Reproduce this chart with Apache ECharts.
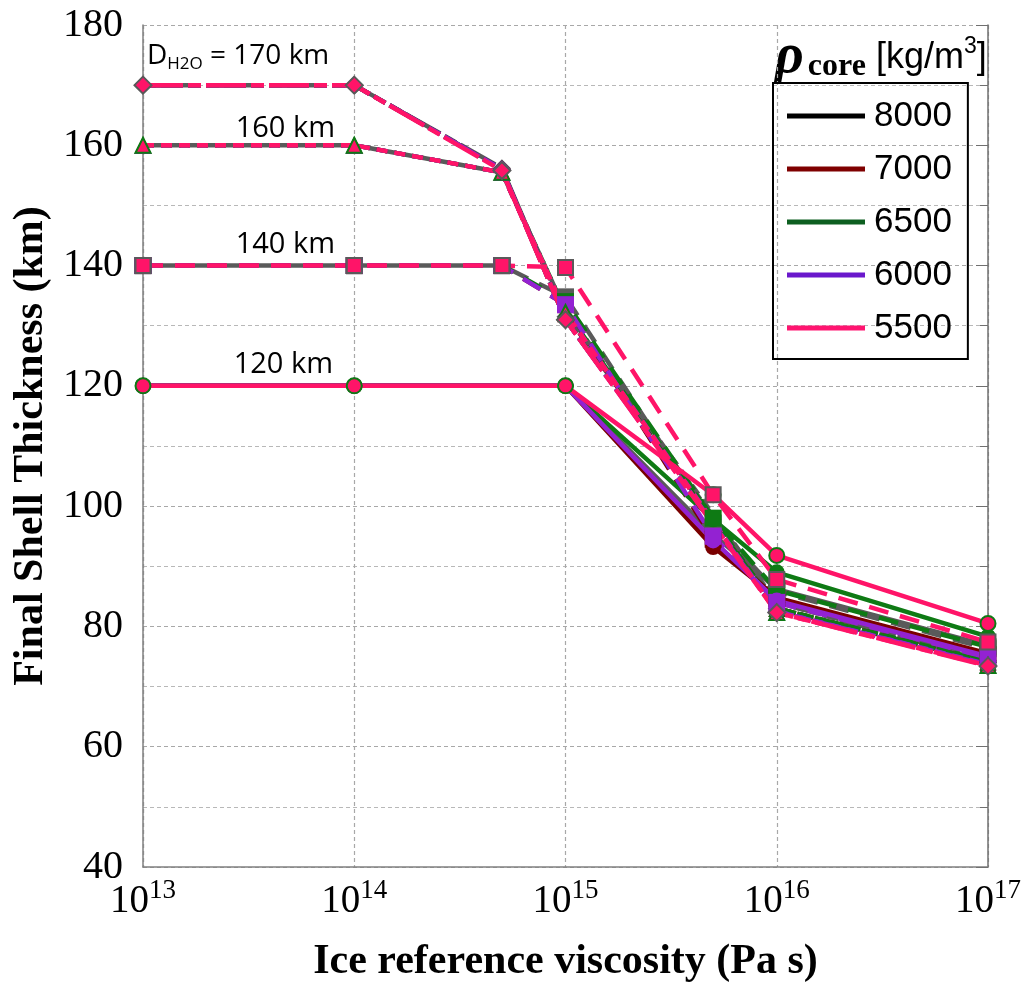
<!DOCTYPE html>
<html>
<head>
<meta charset="utf-8">
<script src="https://cdn.jsdelivr.net/npm/echarts@6/dist/echarts.min.js"></script>
<style>html,body{margin:0;padding:0;background:#fff}#c{width:1030px;height:988px}</style>
</head>
<body>
<div id="c"></div>
<script>
// ---- DATA ----
const viscosity = [1e13, 1e14, 5e14, 1e15, 5e15, 1e16, 1e17];
const densities = ['8000', '7000', '6500', '6000', '5500'];
const shellLabels = ['120 km', '140 km', '160 km', '170 km'];
const yTicks = [40, 60, 80, 100, 120, 140, 160, 180];

// D_H2O = 120 km
const d120_8000 = [120, 120, null, 120, 95.3, 86.2, 76.8];
const d120_7000 = [120, 120, null, 120, 93.2, 84.8, 75.5];
const d120_6500 = [120, 120, null, 120, 97.8, 89.0, 78.3];
const d120_6000 = [120, 120, null, 120, 94.3, 84.3, 75.0];
const d120_5500 = [120, 120, null, 120, 101.9, 91.8, 80.5];
// D_H2O = 140 km
const d140_8000 = [140, 140, 140, 134.8, 97.2, 85.8, 76.3];
const d140_7000 = [140, 140, 140, 133.5, 94.5, 84.6, 75.3];
const d140_6500 = [140, 140, 140, 134.0, 98.0, 86.0, 76.6];
const d140_6000 = [140, 140, 140, 133.5, 95.0, 84.0, 74.8];
const d140_5500 = [140, 140, 140, 139.7, 101.9, 87.8, 77.4];
// D_H2O = 160 km
const d160_8000 = [160, 160, 155.5, 132.5, null, 84.0, 74.5];
const d160_7000 = [160, 160, 155.5, 132.0, null, 83.0, 74.0];
const d160_6500 = [160, 160, 155.5, 132.5, null, 83.0, 74.2];
const d160_6000 = [160, 160, 155.5, 132.2, null, 82.5, 73.7];
const d160_5500 = [160, 160, 155.5, 132.2, null, 82.3, 73.5];
// D_H2O = 170 km
const d170_8000 = [170, 170, 156.2, 131.5, null, 84.0, 74.3];
const d170_7000 = [170, 170, 156.0, 131.0, null, 83.0, 74.0];
const d170_6500 = [170, 170, 156.0, 131.0, null, 83.0, 74.0];
const d170_6000 = [170, 170, 156.0, 131.0, null, 82.5, 73.6];
const d170_5500 = [170, 170, 155.8, 131.0, null, 82.3, 73.4];

const table = {
  '8000': [d120_8000, d140_8000, d160_8000, d170_8000],
  '7000': [d120_7000, d140_7000, d160_7000, d170_7000],
  '6500': [d120_6500, d140_6500, d160_6500, d170_6500],
  '6000': [d120_6000, d140_6000, d160_6000, d170_6000],
  '5500': [d120_5500, d140_5500, d160_5500, d170_5500]
};

// ---- STYLE ----
const plotColors = {'8000': '#5a5a5a', '7000': '#7a0000', '6500': '#0e7a14', '6000': '#9322d2', '5500': '#ff1468'};
const legendColors = {'8000': '#000000', '7000': '#7f0000', '6500': '#0d5f20', '6000': '#6a18cc', '5500': '#ff1470'};
const symbols = ['circle', 'rect', 'triangle', 'diamond'];
const symSizes = [16, 17, 17, [18, 18]];
const pinkBorders = ['#0e7a14', '#5a5a5a', '#0e7a14', '#5a5a5a'];
const dashes = ['solid', [20, 12], [11, 7], [40, 5, 13, 5]];
const grayOffsets = [0, 16, 9, 45];

const series = [];
densities.forEach(dn => {
  table[dn].forEach((vals, k) => {
    const isPink = dn === '5500';
    const data = [];
    vals.forEach((v, i) => {
      if (v === null) return;
      data.push(isPink
        ? {value: [viscosity[i], v], itemStyle: {borderColor: pinkBorders[k], borderWidth: 2}}
        : [viscosity[i], v]);
    });
    series.push({
      name: dn,
      type: 'line',
      data: data,
      symbol: symbols[k],
      symbolSize: isPink ? (k === 3 ? [17, 17] : 15) : symSizes[k],
      showSymbol: true,
      animation: false,
      lineStyle: {
        color: plotColors[dn],
        width: 4.5,
        type: dashes[k],
        dashOffset: dn === '8000' ? grayOffsets[k] : 0
      },
      itemStyle: {color: plotColors[dn], borderWidth: 0},
      emphasis: {disabled: true}
    });
  });
});

const chart = echarts.init(document.getElementById('c'), null, {renderer: 'canvas'});
const serif = '"Liberation Serif", "Times New Roman", serif';
const sans = '"Liberation Sans", Arial, sans-serif';
const noteFont = '"Open Sans", "Noto Sans", sans-serif';

chart.setOption({
  animation: false,
  backgroundColor: '#fff',
  grid: {left: 143, right: 42, top: 25, bottom: 120, containLabel: false},
  xAxis: {
    type: 'log',
    logBase: 10,
    min: 1e13,
    max: 1e17,
    axisLine: {show: true, lineStyle: {color: '#808080', width: 1.5}},
    axisTick: {show: false},
    splitLine: {show: true, lineStyle: {color: '#a8a8a8', type: [4, 3], width: 1.2}},
    axisLabel: {
      margin: 10,
      formatter: v => '{b|10}{s|' + Math.round(Math.log10(v)) + '}',
      rich: {
        b: {fontFamily: serif, fontSize: 39, color: '#000'},
        s: {fontFamily: serif, fontSize: 27, color: '#000', padding: [0, 0, 22, 0]}
      }
    },
    name: 'Ice reference viscosity (Pa s)',
    nameLocation: 'middle',
    nameGap: 74,
    nameTextStyle: {fontFamily: serif, fontSize: 42, fontWeight: 'bold', color: '#000'}
  },
  yAxis: [{
    type: 'value',
    min: yTicks[0],
    max: yTicks[yTicks.length - 1],
    interval: 20,
    axisLine: {show: true, lineStyle: {color: '#808080', width: 1.5}},
    axisTick: {show: false},
    axisLabel: {margin: 20, fontFamily: serif, fontSize: 40, color: '#000'},
    splitLine: {show: true, lineStyle: {color: '#a8a8a8', type: [4, 3], width: 1.2}},
    minorTick: {show: false, splitNumber: 2},
    minorSplitLine: {show: true, lineStyle: {color: '#b8b8b8', type: [4, 3], width: 1}},
    name: 'Final Shell Thickness (km)',
    nameLocation: 'middle',
    nameGap: 90,
    nameTextStyle: {fontFamily: serif, fontSize: 42, fontWeight: 'bold', color: '#000'}
  }, {
    type: 'value',
    position: 'right',
    min: yTicks[0],
    max: yTicks[yTicks.length - 1],
    interval: 20,
    axisLine: {show: true, lineStyle: {color: '#707070', width: 1.5}},
    axisTick: {show: true, inside: true, length: 12, lineStyle: {color: '#707070'}},
    minorTick: {show: true, splitNumber: 2, length: 8, lineStyle: {color: '#707070'}},
    axisLabel: {show: false},
    splitLine: {show: false}
  }],
  legend: {
    orient: 'vertical',
    left: 773,
    top: 83,
    selectedMode: false,
    borderColor: '#000',
    borderWidth: 2,
    padding: [13, 16, 11, 14],
    itemGap: 13,
    itemWidth: 78,
    itemHeight: 5,
    icon: 'rect',
    data: densities.map(d => ({name: d, itemStyle: {color: legendColors[d], borderWidth: 0}})),
    textStyle: {fontFamily: sans, fontSize: 35, color: '#000', lineHeight: 40, padding: [0, 0, 0, 4]}
  },
  graphic: [
    {
      type: 'text', left: 775, top: 30,
      style: {
        text: '{r|ρ}{c|core}{u| [kg/m}{p|3}{u|]}',
        rich: {
          r: {fontFamily: serif, fontSize: 56, fontWeight: 'bold', fontStyle: 'italic', fill: '#000'},
          c: {fontFamily: serif, fontSize: 32, fontWeight: 'bold', fill: '#000', padding: [18, 0, 0, 4]},
          u: {fontFamily: sans, fontSize: 36, fill: '#000'},
          p: {fontFamily: sans, fontSize: 23, fill: '#000', padding: [0, 0, 22, 0]}
        }
      }
    },
    {
      type: 'text', left: 147, top: 42,
      style: {
        text: '{a|D}{b|H2O}{a| = 170 km}',
        rich: {
          a: {fontFamily: noteFont, fontSize: 28, fill: '#000'},
          b: {fontFamily: noteFont, fontSize: 17, fill: '#000', padding: [16, 0, 0, 0]}
        }
      }
    },
    {type: 'text', right: 1030 - 335, top: 114, style: {text: shellLabels[2], fontFamily: noteFont, fontSize: 29, fill: '#000'}},
    {type: 'text', right: 1030 - 335, top: 230, style: {text: shellLabels[1], fontFamily: noteFont, fontSize: 29, fill: '#000'}},
    {type: 'text', right: 1030 - 333, top: 350, style: {text: shellLabels[0], fontFamily: noteFont, fontSize: 29, fill: '#000'}}
  ],
  series: series
});
</script>
</body>
</html>
